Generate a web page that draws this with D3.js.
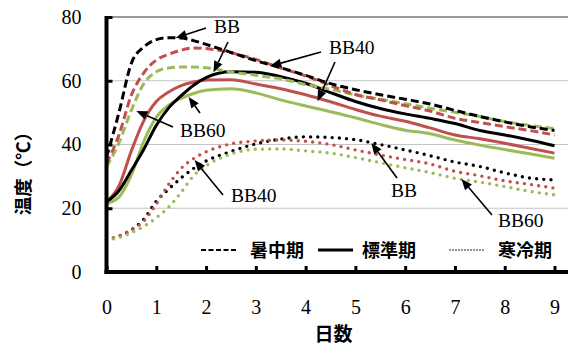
<!DOCTYPE html>
<html><head><meta charset="utf-8">
<script src="https://cdn.jsdelivr.net/npm/d3@7"></script>
<style>body{margin:0;background:#fff;} svg{display:block;} .serif{font-family:"Liberation Serif","Times New Roman",serif;} .cjk{font-family:"Noto Sans CJK JP","Noto Sans CJK SC",sans-serif;font-weight:bold;}</style>
</head><body><svg id="c" width="568" height="349"></svg>
<script>
// ---- data ----
const days      = [0,0.25,0.5,0.75,1,1.25,1.5,1.75,2,2.5,3,3.5,4,4.5,5,5.5,6,6.5,7,7.5,8,8.5,9];
const hotBB     = [36,50,65.5,70.6,72.9,73.5,73.4,72.6,71.4,68.9,66.3,64.1,61.7,59.1,57.2,55.6,54.2,52.7,50.7,48.8,47.1,45.6,44.4];
const hotBB40   = [34,43,55.5,62.5,66.5,68.3,69.6,70.3,70.1,68.8,66.7,64,61.5,58.5,55.7,54,52.2,50.5,48.2,46.9,45.6,44.4,43];
const hotBB60   = [33,40.5,50.8,59.1,62.8,64,64.3,64.3,64.1,62.8,61.7,60.6,58.8,57.3,55.6,54.2,52.8,51.4,50.1,48.8,47.2,46,45];
const stdBB     = [22,25.5,31.9,38.5,46,51.5,55.3,58.6,61,62.8,62.7,61.3,59.2,56.3,53.5,51.3,49.6,48.2,46.6,44.4,43,41.4,39.6];
const stdBB40   = [22,27,38,47.5,53.5,56.5,58.5,59.6,60.2,60.3,59,57.5,55.6,53.4,51,48.9,47.3,45.2,43,41.8,40.4,38.8,37.3];
const stdBB60   = [21.5,23.5,30.5,41,48.5,52.3,54.5,56,57,57.5,56.2,54,52.1,50.3,48.4,46.3,44.5,43.4,41.4,39.8,38.4,37.1,35.7];
const coldBB    = [10,11.2,13.2,16.6,22.2,26,29.5,32.5,34.8,37.8,40.2,41.7,42.4,42.2,41.5,40,38.3,36.5,34.5,33.1,31.1,29.5,28.9];
const coldBB40  = [10.3,11.3,13.3,16,21.3,27.5,32.5,35.6,37.7,40.2,41.1,41.4,41,40,38.3,36.7,35.3,33.9,31.6,30.2,28.6,27.5,26.3];
const coldBB60  = [10,10.8,12.3,14.3,17,20.4,25,30.2,33.3,37,38.5,38.6,38,37.3,35.9,34.3,32.7,31.2,29.4,28.2,26.8,25.3,24.2];
const xTicks = [0,1,2,3,4,5,6,7,8,9];
const yTicks = [0,20,40,60,80];
const periodNames = ["暑中期","標準期","寒冷期"];
const xTitle = "日数";
const yTitle = "温度（℃）";
// annotation labels and the (day, temperature) points their arrows touch
const noteLabels = ["BB","BB40","BB60","BB40","BB","BB60"];
const arrowTipDays  = [1.39,2.15,3.29,4.24,0.60,1.65,1.77,5.32,7.13];
const arrowTipTemps = [73.4,62.7,64.6,53.6,50.5,54.9,35.1,40.5,29.2];

// ---- layout ----
const svg = d3.select("#c");
const x = d3.scaleLinear().domain([0,9]).range([106.5,554.5]);
const y = d3.scaleLinear().domain([0,80]).range([272,17]);
const plotRight = 568;

const red = "#C0504D", green = "#9BBB59", black = "#000000";
const styles = {
  hot:  {dash:"8,4", width:3, cap:"butt"},
  std:  {dash:null, width:3, cap:"butt"},
  cold: {dash:"0,7.2", width:3.4, cap:"round"}
};
const series = [
  {v:hotBB, c:black, s:"hot"},{v:hotBB40, c:red, s:"hot"},{v:hotBB60, c:green, s:"hot"},
  {v:stdBB, c:black, s:"std"},{v:stdBB40, c:red, s:"std"},{v:stdBB60, c:green, s:"std"},
  {v:coldBB, c:black, s:"cold"},{v:coldBB40, c:red, s:"cold"},{v:coldBB60, c:green, s:"cold"}
];

// gridlines
svg.append("g").selectAll("line").data(yTicks.filter(d=>d>0)).join("line")
  .attr("x1", x(0)).attr("x2", plotRight)
  .attr("y1", d=>y(d)).attr("y2", d=>y(d))
  .attr("stroke", d=> d===80 ? "#9a9a9a" : "#c4c4c4")
  .attr("stroke-width", d=> d===80 ? 2 : 1.2);

// series lines
const line = d3.line().x((d,i)=>x(days[i])).y(d=>y(d)).curve(d3.curveMonotoneX);
const order = [6,7,8,5,4,3,2,1,0];
svg.append("g").selectAll("path").data(order.map(i=>series[i])).join("path")
  .attr("d", d=>line(d.v))
  .attr("fill","none")
  .attr("stroke", d=>d.c)
  .attr("stroke-width", d=>styles[d.s].width)
  .attr("stroke-linecap", d=>styles[d.s].cap)
  .attr("stroke-linejoin","round")
  .attr("stroke-dasharray", d=>styles[d.s].dash);

// axes
const xAxis = svg.append("g").attr("transform",`translate(0,${y(0)})`)
  .call(d3.axisBottom(x).tickValues(xTicks).tickFormat(d3.format("d")).tickSize(-6).tickPadding(28));
const yAxis = svg.append("g").attr("transform",`translate(${x(0)},0)`)
  .call(d3.axisLeft(y).tickValues(yTicks).tickFormat(d3.format("d")).tickSize(-6).tickPadding(25));
[xAxis,yAxis].forEach(a=>{
  a.attr("font-family",null).attr("font-size",null);
  a.select(".domain").remove();
  a.selectAll(".tick line").attr("stroke","#000").attr("stroke-width",3);
  a.selectAll(".tick text").attr("class","serif").style("font-size","20px").attr("fill","#000");
});
yAxis.selectAll(".tick").filter(d=>d===0).select("line").remove();
svg.append("line").attr("x1",x(0)).attr("x2",x(0)).attr("y1",y(80)-1).attr("y2",y(0)+2)
  .attr("stroke","#000").attr("stroke-width",4);
svg.append("line").attr("x1",x(0)-2).attr("x2",plotRight).attr("y1",y(0)).attr("y2",y(0))
  .attr("stroke","#000").attr("stroke-width",4);

// axis titles
svg.append("text").attr("class","cjk").attr("x",(x(0)+x(9))/2+3).attr("y",341)
  .attr("text-anchor","middle").style("font-size","19px").text(xTitle);
svg.append("text").attr("class","cjk").attr("transform","translate(30,169) rotate(-90)")
  .attr("text-anchor","middle").style("font-size","18.5px").text(yTitle);

// legend
const legendX = [[201,237,250],[318,353,362],[450,485,498]];
const legendStyles = [{dash:"5,2.5",w:2,cap:"butt"},{dash:null,w:3,cap:"butt"},{dash:"0,3",w:1.6,cap:"round"}];
const lg = svg.append("g");
periodNames.forEach((name,i)=>{
  const [a,b,t] = legendX[i];
  lg.append("line").attr("x1",a).attr("x2",b).attr("y1",250).attr("y2",250)
    .attr("stroke","#000").attr("stroke-width",legendStyles[i].w)
    .attr("stroke-linecap",legendStyles[i].cap)
    .attr("stroke-dasharray",legendStyles[i].dash);
  lg.append("text").attr("class","cjk").attr("x",t).attr("y",256.5)
    .style("font-size","18px").text(name);
});

// annotations
const noteXY = [[214,33],[329,54],[180,137],[231,202],[391,197],[498,227]];
const ann = svg.append("g");
noteLabels.forEach((t,i)=>{
  ann.append("text").attr("class","serif").attr("x",noteXY[i][0]).attr("y",noteXY[i][1])
    .style("font-size","19.5px").attr("fill","#000").text(t);
});
const arrowStarts = [[206,28],[228,42],[321,52],[335,62],[173,127],[200,113],[223,195],[397,178],[492,215]];
arrowStarts.forEach((s,i)=>{
  const tx = x(arrowTipDays[i]), ty = y(arrowTipTemps[i]);
  const ang = Math.atan2(ty-s[1], tx-s[0]);
  const L = 11, W = 4.5;
  const bx = tx - L*Math.cos(ang), by = ty - L*Math.sin(ang);
  ann.append("line").attr("x1",s[0]).attr("y1",s[1]).attr("x2",bx).attr("y2",by)
    .attr("stroke","#000").attr("stroke-width",1.6);
  const px = -Math.sin(ang), py = Math.cos(ang);
  ann.append("path").attr("d",`M${tx},${ty}L${bx+W*px},${by+W*py}L${bx-W*px},${by-W*py}Z`)
    .attr("fill","#000");
});
</script></body></html>
